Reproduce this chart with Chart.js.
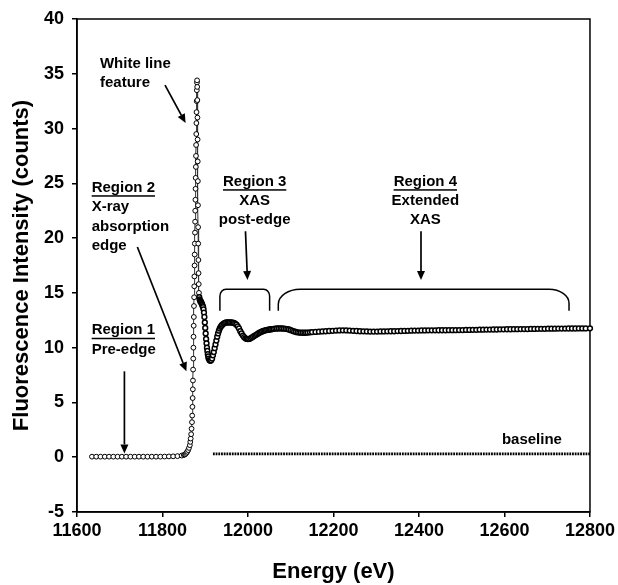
<!DOCTYPE html>
<html><head><meta charset="utf-8">
<script src="https://cdn.jsdelivr.net/npm/chart.js@4.4.1/dist/chart.umd.min.js"></script>
<style>html,body{margin:0;padding:0;background:#fff}#wrap{width:618px;height:585px;position:relative}</style>
</head><body><div id="wrap"><canvas id="c" width="618" height="585"></canvas></div>
<script>
// ---------- DATA ----------
const preEdgeEnergy = [11635,11645,11655,11665,11675,11685,11695,11705,11715,11725,11735,11745,11755,11765,11775,11785,11795,11805,11815,11825,11835,11845];
const preEdgeCounts = [0.05,0.05,0.05,0.05,0.05,0.05,0.05,0.05,0.05,0.05,0.05,0.05,0.05,0.05,0.05,0.05,0.05,0.06,0.07,0.08,0.1,0.15];

const edgeEnergy = [11850,11852,11854,11856,11858,11860,11862,11864,11865,11866,11867,11868,11869,11869.5,11870,11870.5,11871,11871.3,11871.6,11872,11872.3,11872.6,11873,11873.3,11873.6,11874,11874.3,11874.6,11875,11875.3,11875.6,11876,11876.3,11876.6,11877,11877.3,11877.6,11878,11878.3,11878.6,11879,11879.3,11879.6,11880,11880.3,11880.6,11880.9];
const edgeCounts = [0.2,0.25,0.3,0.4,0.5,0.65,0.85,1.1,1.4,1.7,2.1,2.6,3.2,3.8,4.6,5.4,6.2,7.0,8.0,9.0,10.0,11.0,12.0,12.8,13.8,14.6,15.6,16.5,17.5,18.5,19.5,20.5,21.5,22.5,23.5,24.5,25.5,26.5,27.5,28.5,29.5,30.5,31.5,32.5,33.5,34.2,34.4];

const postEdgeEnergy = [11881.2,11881.5,11881.8,11882.1,11882.4,11882.7,11883,11883.3,11883.6,11884,
 11884.4,11884.8,11885.3,11886,11887,11888,11889,11890,11891,11892,
 11893,11894,11895,11896,11897,11898,11899,11900,11901,11902,
 11903,11904,11905,11906,11907,11908,11910,11912,11914,11916,
 11918,11920,11922,11924,11926,11928,11930,11932,11934,11936,
 11938,11940,11943,11946,11949,11952,11955,11958,11961,11964,
 11967,11970,11973,11976,11979,11982,11985,11988,11991,11994,
 11997,12000,12003,12006,12009,12012,12015,12018,12021,12024,
 12027,12030,12033,12036,12039,12042,12045,12048,12051,12054,
 12057,12060,12064,12068,12072,12076,12080,12084,12088,12092,
 12096,12100,12104,12108,12112,12116,12120,12124,12128,12132,
 12136,12140,12145,12150];
const postEdgeCounts = [33.8,32.6,31.0,29.0,27.0,25.2,23.0,21.0,19.5,18.0,
 16.8,15.8,15.0,14.6,14.4,14.3,14.2,14.2,14.1,14.0,
 13.9,13.8,13.7,13.5,13.2,12.8,12.3,11.8,11.3,10.8,
 10.4,10.0,9.7,9.4,9.2,9.0,8.85,8.8,8.85,9.0,
 9.3,9.6,9.95,10.3,10.65,11.0,11.3,11.55,11.75,11.9,
 12.0,12.1,12.2,12.25,12.3,12.3,12.3,12.3,12.3,12.28,
 12.25,12.2,12.1,11.95,11.75,11.5,11.3,11.1,10.95,10.85,
 10.8,10.78,10.8,10.85,10.92,11.0,11.08,11.15,11.22,11.3,
 11.36,11.42,11.48,11.52,11.56,11.6,11.62,11.64,11.66,11.68,
 11.7,11.72,11.74,11.75,11.76,11.76,11.75,11.74,11.72,11.7,
 11.66,11.6,11.54,11.48,11.43,11.4,11.38,11.37,11.36,11.36,
 11.37,11.38,11.4,11.42];

const exafsEnergy = [12158,12166,12174,12182,12190,12198,12206,12214,12222,12230,
 12238,12246,12254,12262,12270,12278,12286,12294,12302,12310,
 12318,12326,12334,12342,12350,12358,12366,12374,12382,12390,
 12398,12406,12414,12422,12430,12438,12446,12454,12462,12470,
 12478,12486,12494,12502,12510,12518,12526,12534,12542,12550,
 12558,12566,12574,12582,12590,12598,12606,12614,12622,12630,
 12638,12646,12654,12662,12670,12678,12686,12694,12702,12710,
 12718,12726,12734,12742,12750,12758,12766,12774,12782,12790,
 12800];
const exafsCounts = [11.44,11.46,11.48,11.5,11.52,11.54,11.56,11.57,11.58,11.57,
 11.56,11.54,11.52,11.5,11.49,11.48,11.47,11.47,11.47,11.48,
 11.48,11.49,11.5,11.5,11.51,11.52,11.53,11.54,11.55,11.56,
 11.56,11.57,11.57,11.58,11.58,11.58,11.59,11.59,11.59,11.6,
 11.6,11.6,11.61,11.61,11.62,11.62,11.63,11.63,11.64,11.64,
 11.65,11.65,11.66,11.66,11.67,11.67,11.68,11.68,11.69,11.69,
 11.7,11.7,11.7,11.71,11.71,11.72,11.72,11.72,11.73,11.73,
 11.73,11.74,11.74,11.74,11.75,11.75,11.75,11.76,11.76,11.76,
 11.77];

const baselineEnergy = [11918, 12800];
const baselineCounts = [0.3, 0.3];

const xTickValues = [11600,11800,12000,12200,12400,12600,12800];
const yTickValues = [-5,0,5,10,15,20,25,30,35,40];
const xTitle = 'Energy (eV)';
const yTitle = 'Fluorescence Intensity (counts)';

const annotationTexts = ['White line','feature','Region 2','X-ray','absorption','edge','Region 1','Pre-edge','Region 3','XAS','post-edge','Region 4','Extended','XAS','baseline'];

// ---------- LAYOUT (data coords of annotations) ----------
const textPlacement = [
 {e:11653.7, v:35.87, align:'left'},
 {e:11653.7, v:34.17, align:'left'},
 {e:11634.3, v:24.6, align:'left', underline:true},
 {e:11634.3, v:22.84, align:'left'},
 {e:11634.3, v:21.02, align:'left'},
 {e:11634.3, v:19.25, align:'left'},
 {e:11634.3, v:11.59, align:'left', underline:true},
 {e:11634.3, v:9.82, align:'left'},
 {e:12015.6, v:25.15, align:'center', underline:true},
 {e:12015.6, v:23.41, align:'center'},
 {e:12015.6, v:21.64, align:'center'},
 {e:12414.8, v:25.15, align:'center', underline:true},
 {e:12414.8, v:23.41, align:'center'},
 {e:12414.8, v:21.64, align:'center'},
 {e:12594, v:1.57, align:'left'}
];
const arrowPlacement = [
 [11805.9, 33.97, 11854, 30.5],
 [11741.2, 19.19, 11855.9, 7.84],
 [11710.9, 7.84, 11710.9, 0.35],
 [11994.1, 20.62, 11998.8, 16.18],
 [12404.7, 20.62, 12404.7, 16.18]
];
const bracketPlacement = [
 {l:11934.3, r:12050.6, top:15.33, bot:13.36, rxl:6, ryl:7, rxr:6, ryr:7},
 {l:12070.9, r:12751, top:15.33, bot:13.36, rxl:22, ryl:15, rxr:20, ryr:14}
];

const FONT = '"Liberation Sans", Arial, Helvetica, sans-serif';
Chart.defaults.font.family = FONT;
Chart.defaults.color = '#000';

const toPts = (xs, ys) => xs.map((e, i) => ({x: e, y: ys[i]}));
const spectrum = toPts(preEdgeEnergy.concat(edgeEnergy, postEdgeEnergy, exafsEnergy),
                       preEdgeCounts.concat(edgeCounts, postEdgeCounts, exafsCounts));
const denseStart = preEdgeEnergy.length + edgeEnergy.length + 13;

const framePlugin = {
 id: 'frame',
 beforeDatasetsDraw(chart) {
  const {ctx, chartArea: a} = chart;
  ctx.save();
  ctx.strokeStyle = '#000'; ctx.lineWidth = 1.5;
  ctx.strokeRect(a.left, a.top, a.right - a.left, a.bottom - a.top);
  ctx.restore();
 }
};

const annotPlugin = {
 id: 'annot',
 afterDatasetsDraw(chart) {
  const {ctx, scales: {x, y}} = chart;
  const X = v => x.getPixelForValue(v), Y = v => y.getPixelForValue(v);
  ctx.save();
  ctx.fillStyle = '#000'; ctx.strokeStyle = '#000';
  ctx.font = 'bold 15px ' + FONT;
  ctx.textBaseline = 'middle';
  annotationTexts.forEach((t, i) => {
   const p = textPlacement[i];
   ctx.textAlign = p.align;
   const px = X(p.e), py = Y(p.v);
   ctx.fillText(t, px, py);
   if (p.underline) {
    const w = ctx.measureText(t).width;
    const x0 = p.align === 'center' ? px - w / 2 : px;
    ctx.fillRect(x0, py + 7.5, w, 1.5);
   }
  });
  ctx.lineWidth = 1.7;
  arrowPlacement.forEach(([e1, v1, e2, v2]) => {
   const x1 = X(e1), y1 = Y(v1), x2 = X(e2), y2 = Y(v2);
   const ang = Math.atan2(y2 - y1, x2 - x1);
   const L = 9, H = 4;
   const bx = x2 - L * Math.cos(ang), by = y2 - L * Math.sin(ang);
   ctx.beginPath(); ctx.moveTo(x1, y1); ctx.lineTo(bx, by); ctx.stroke();
   ctx.beginPath();
   ctx.moveTo(x2, y2);
   ctx.lineTo(bx + H * Math.sin(ang), by - H * Math.cos(ang));
   ctx.lineTo(bx - H * Math.sin(ang), by + H * Math.cos(ang));
   ctx.closePath(); ctx.fill();
  });
  ctx.lineWidth = 1.5;
  bracketPlacement.forEach(b => {
   const L = X(b.l), R = X(b.r), T = Y(b.top), B = Y(b.bot);
   ctx.beginPath();
   ctx.moveTo(L, B);
   ctx.lineTo(L, T + b.ryl);
   ctx.bezierCurveTo(L, T + b.ryl * 0.45, L + b.rxl * 0.45, T, L + b.rxl, T);
   ctx.lineTo(R - b.rxr, T);
   ctx.bezierCurveTo(R - b.rxr * 0.45, T, R, T + b.ryr * 0.45, R, T + b.ryr);
   ctx.lineTo(R, B);
   ctx.stroke();
  });
  ctx.restore();
 }
};

new Chart(document.getElementById('c'), {
 type: 'scatter',
 data: {
  datasets: [
   {
    label: 'baseline',
    data: toPts(baselineEnergy, baselineCounts),
    showLine: true,
    borderColor: '#000',
    borderWidth: 2.8,
    borderDash: [1.8, 0.9],
    pointRadius: 0,
    order: 2
   },
   {
    label: 'spectrum',
    data: spectrum,
    showLine: true,
    borderColor: '#333',
    borderWidth: 1,
    pointRadius: 2.4,
    pointBorderWidth: ctx => (ctx.dataIndex >= denseStart ? 1.5 : 1),
    pointBackgroundColor: '#fff',
    pointBorderColor: '#000',
    clip: 6,
    order: 1
   }
  ]
 },
 options: {
  responsive: false,
  animation: false,
  devicePixelRatio: 1,
  layout: {padding: {top: 19, right: 27, bottom: 0, left: 0}},
  plugins: {legend: {display: false}, tooltip: {enabled: false}},
  scales: {
   x: {
    type: 'linear', min: 11600, max: 12800,
    afterFit(s) { s.height = 73; },
    afterBuildTicks(s) { s.ticks = xTickValues.map(v => ({value: v})); },
    grid: {drawOnChartArea: false, drawTicks: true, tickLength: 5, color: '#000', lineWidth: 1.5},
    border: {display: true, color: '#000', width: 1.5},
    ticks: {font: {size: 18, weight: 'bold'}, color: '#000', padding: 3, maxRotation: 0, callback: v => String(v)},
    title: {display: true, text: xTitle, font: {size: 22, weight: 'bold'}, color: '#000', padding: {top: 0, bottom: 0}}
   },
   y: {
    type: 'linear', min: -5, max: 40,
    afterFit(s) { s.width = 77; },
    afterBuildTicks(s) { s.ticks = yTickValues.map(v => ({value: v})); },
    grid: {drawOnChartArea: false, drawTicks: true, tickLength: 5, color: '#000', lineWidth: 1.5},
    border: {display: true, color: '#000', width: 1.5},
    ticks: {font: {size: 18, weight: 'bold'}, color: '#000', padding: 8, callback: v => String(v)},
    title: {display: true, text: yTitle, font: {size: 22, weight: 'bold'}, color: '#000', padding: {top: 9, bottom: 0}}
   }
  }
 },
 plugins: [framePlugin, annotPlugin]
});
</script>
</body></html>
